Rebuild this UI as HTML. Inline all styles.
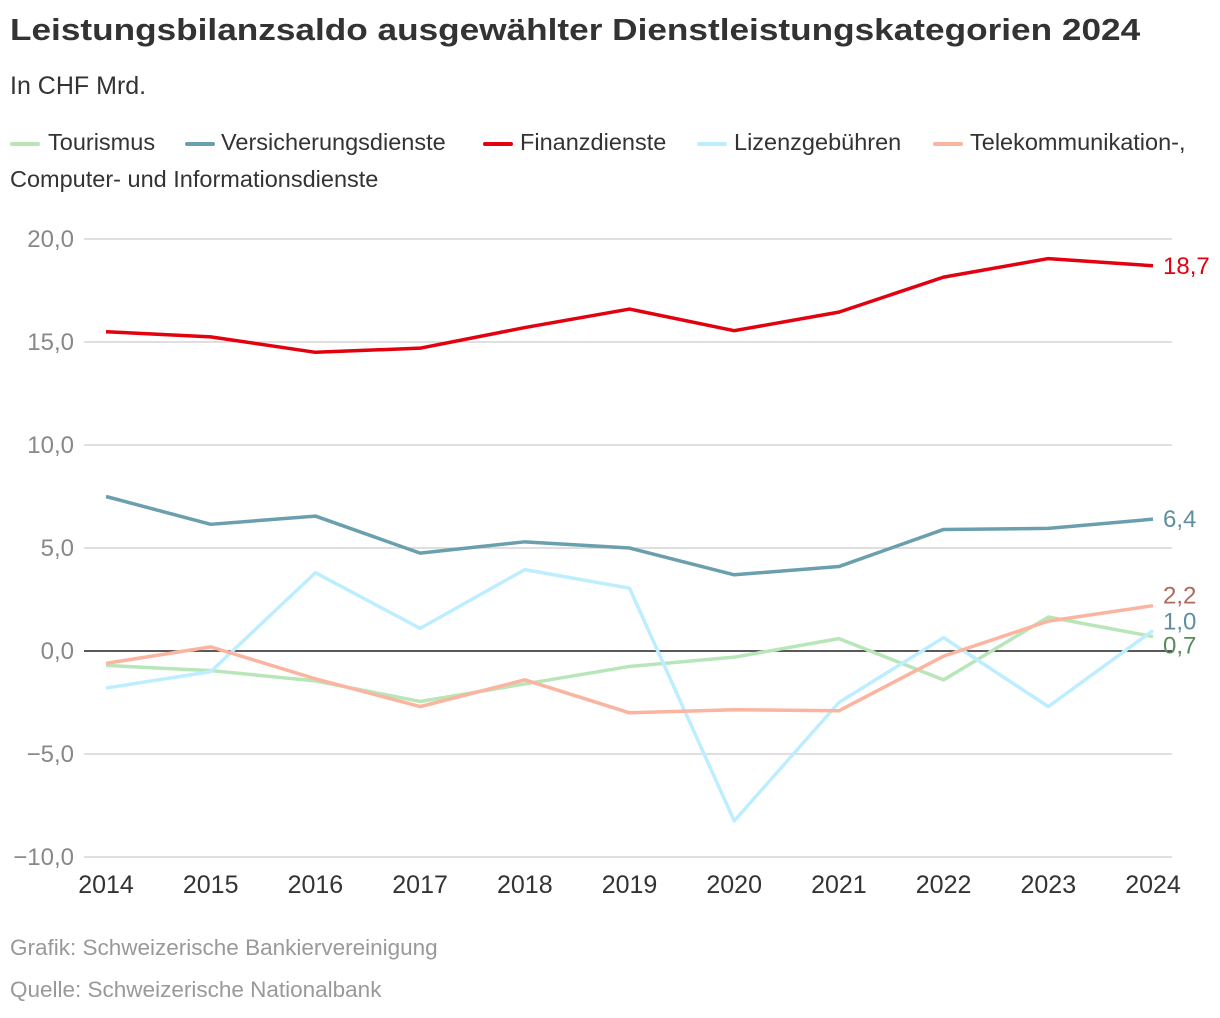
<!DOCTYPE html>
<html><head><meta charset="utf-8">
<style>
body{margin:0;background:#fff;font-family:"Liberation Sans","DejaVu Sans",sans-serif;}
#wrap{position:relative;width:1220px;height:1018px;overflow:hidden}
h1{position:absolute;left:10px;top:12px;margin:0;font-size:31px;font-weight:bold;color:#333;transform:scaleX(1.135);transform-origin:left top;white-space:nowrap}
.sub{position:absolute;left:10px;top:72px;font-size:25px;color:#333}
.li{position:absolute;font-size:23.5px;color:#333;white-space:nowrap}
.sw{position:absolute;width:30px;height:4px;border-radius:2px}
.foot{position:absolute;left:10px;font-size:22.5px;color:#999}
</style></head><body>
<div id="wrap">
<h1>Leistungsbilanzsaldo ausgewählter Dienstleistungskategorien 2024</h1>
<div class="sub">In CHF Mrd.</div>
<div>
<span class="sw" style="left:10px;top:142px;background:#b8e6b8"></span><span class="li" style="left:48px;top:129px">Tourismus</span>
<span class="sw" style="left:185px;top:142px;background:#6a9fae"></span><span class="li" style="left:221px;top:129px">Versicherungsdienste</span>
<span class="sw" style="left:483px;top:142px;background:#e3000f"></span><span class="li" style="left:520px;top:129px">Finanzdienste</span>
<span class="sw" style="left:697px;top:142px;background:#bdeeff"></span><span class="li" style="left:734px;top:129px">Lizenzgebühren</span>
<span class="sw" style="left:933px;top:142px;background:#fbb4a0"></span><span class="li" style="left:970px;top:129px">Telekommunikation-,</span>
<span class="li" style="left:10px;top:166px">Computer- und Informationsdienste</span>
</div>
<svg id="chart" width="1220" height="1018" style="position:absolute;left:0;top:0"></svg>
<div class="foot" style="top:935px">Grafik: Schweizerische Bankiervereinigung</div>
<div class="foot" style="top:977px">Quelle: Schweizerische Nationalbank</div>
</div>
<script>
const years=[2014,2015,2016,2017,2018,2019,2020,2021,2022,2023,2024];
const yTicks=[20,15,10,5,0,-5,-10];
const tourismus=[-0.7,-0.95,-1.45,-2.45,-1.6,-0.75,-0.3,0.6,-1.4,1.65,0.7];
const versicherung=[7.5,6.15,6.55,4.75,5.3,5.0,3.7,4.1,5.9,5.95,6.4];
const finanz=[15.5,15.25,14.5,14.7,15.7,16.6,15.55,16.45,18.15,19.05,18.7];
const lizenz=[-1.8,-1.0,3.8,1.1,3.95,3.05,-8.25,-2.5,0.65,-2.7,1.0];
const telekom=[-0.6,0.2,-1.35,-2.7,-1.4,-3.0,-2.85,-2.9,-0.25,1.45,2.2];
const labels=["18,7","6,4","2,2","1,0","0,7"];
const NS="http://www.w3.org/2000/svg";
const svg=document.getElementById('chart');
const x=i=>106+i*(1153-106)/(years.length-1);
const y=v=>651-v*20.6;
function mk(t,a){const e=document.createElementNS(NS,t);for(const k in a)e.setAttribute(k,a[k]);svg.appendChild(e);return e;}
yTicks.forEach(v=>{
 const l=mk('line',{x1:84,x2:1172,y1:y(v),y2:y(v),stroke:v===0?'#222':'#ccc','stroke-width':v===0?1.5:1.2});
 
 
 const t=mk('text',{x:74,y:y(v)+8,'text-anchor':'end','font-size':24,fill:'#888'});
 t.textContent=(v<0?'\u2212':'')+Math.abs(v).toFixed(1).replace('.',',');
 
 
});
years.forEach((yr,i)=>{
 const t=mk('text',{x:x(i),y:893,'text-anchor':'middle','font-size':25,fill:'#333'});
 t.textContent=yr;
 
 
});
const series=[[tourismus,'#b8e6b8','tourismus'],[lizenz,'#bdeeff','lizenzgebuehren'],[telekom,'#fbb4a0','telekommunikation'],[versicherung,'#6a9fae','versicherungsdienste'],[finanz,'#e3000f','finanzdienste']];
series.forEach(([d,c,n])=>{
 const p=mk('polyline',{points:d.map((v,i)=>x(i)+','+y(v)).join(' '),fill:'none',stroke:c,'stroke-width':3.5,'stroke-linejoin':'round'});
 
 
});
const last=years.length-1;
const endLabels=[[finanz,'#e3000f',0],[versicherung,'#5e8f9e',0],[telekom,'#b06a5a',-10],[lizenz,'#5e8f9e',-9],[tourismus,'#5a8a5a',9]];
endLabels.forEach(([d,c,dy],k)=>{
 const t=mk('text',{x:1163,y:y(d[last])+8+dy,'font-size':24,fill:c});
 t.textContent=labels[k];
 
 
});
</script>
</body></html>
